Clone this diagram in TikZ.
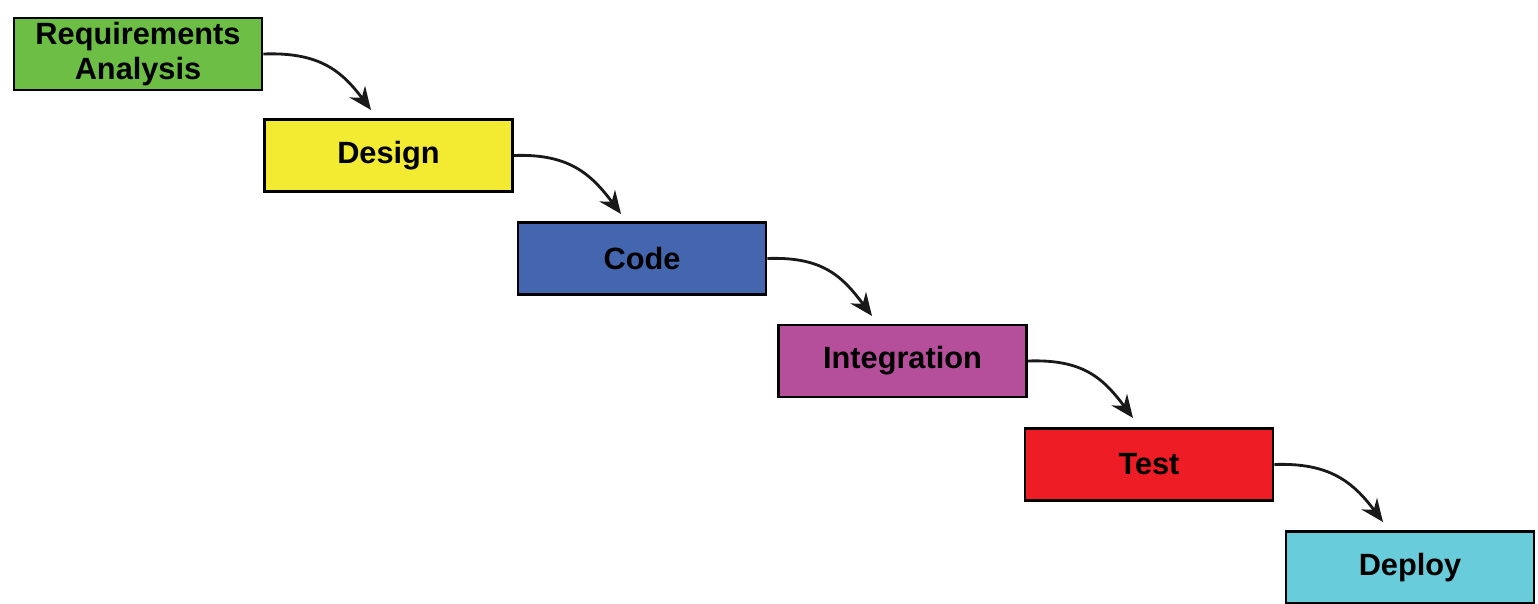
\documentclass[tikz,border=0pt]{standalone}
\usepackage{fontspec}
\setmainfont{Liberation Sans}
\usetikzlibrary{arrows.meta,calc}
\definecolor{reqgreen}{HTML}{6DBE45}
\definecolor{desyellow}{HTML}{F3EB31}
\definecolor{codeblue}{HTML}{4466AE}
\definecolor{intmagenta}{HTML}{B64F9B}
\definecolor{testred}{HTML}{EE1C25}
\definecolor{depcyan}{HTML}{68CCDA}
\begin{document}
\begin{tikzpicture}[x=0.02cm,y=-0.02cm,
  phase/.style={draw=black,line width=1.6pt,minimum width=4.96cm,minimum height=1.44cm,
    inner sep=0pt,align=center,font=\fontsize{17.5}{20}\selectfont\bfseries},
  flow/.style={draw=black!90,line width=1.6pt,-{Stealth[length=13pt,width=11pt]}}]
\useasboundingbox (0,0) rectangle (1538,604);
\node[phase,fill=reqgreen]   (req)  at (138,54)    {Requirements\\Analysis};
\node[phase,fill=desyellow]  (des)  at (388.5,155.5) {Design};
\node[phase,fill=codeblue]   (code) at (642,258.5) {Code};
\node[phase,fill=intmagenta] (int)  at (902.5,361)  {Integration};
\node[phase,fill=testred]    (test) at (1149,464.5) {Test};
\node[phase,fill=depcyan]    (dep)  at (1410,567.5) {Deploy};
% arrow tips stop just above the next box
\coordinate (t1) at (371,110);
\coordinate (t2) at (621,214);
\coordinate (t3) at (872,316);
\coordinate (t4) at (1133,418);
\coordinate (t5) at (1383,522);
\foreach \a/\t in {req/t1,des/t2,code/t3,int/t4,test/t5}{
  \draw[flow] (\a.east) .. controls ($(\a.east)+(55,-2)$) and ($(\t)+(-30,-40)$) .. (\t);
}
\end{tikzpicture}
\end{document}
